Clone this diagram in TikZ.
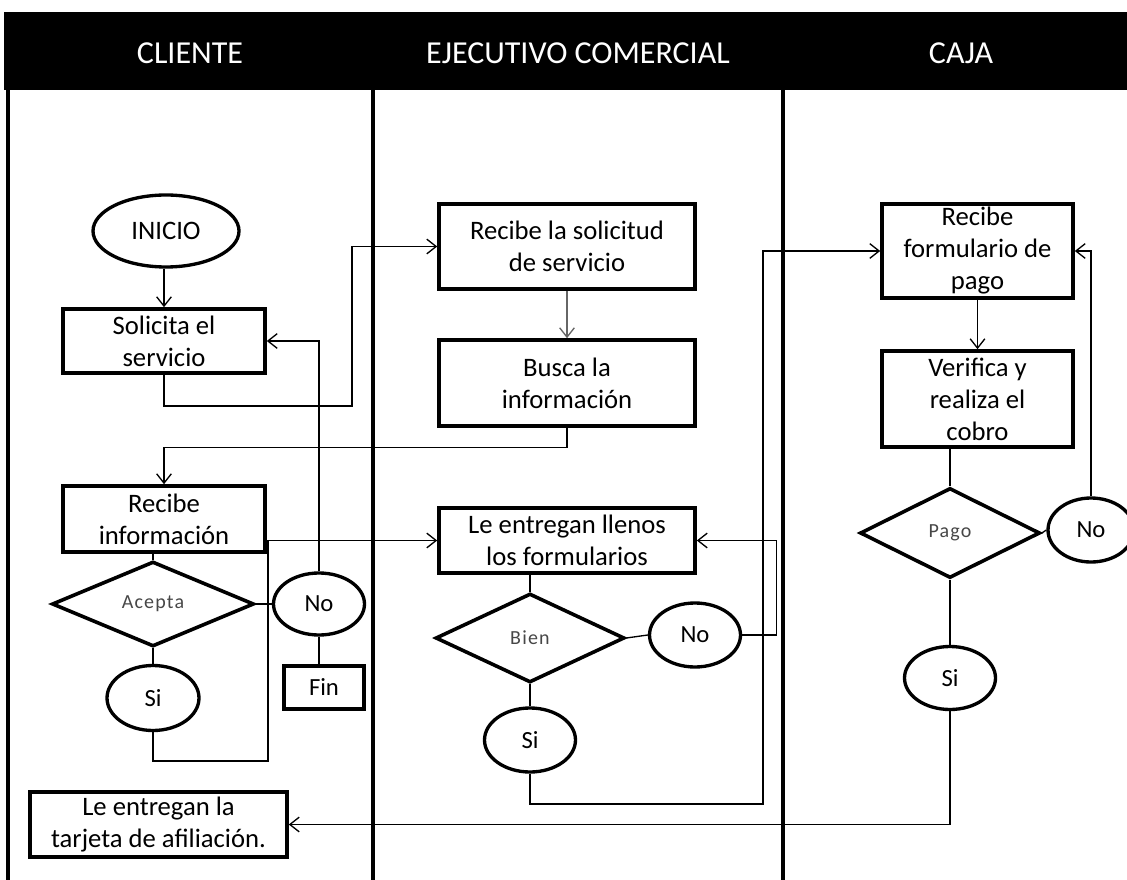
\documentclass[tikz,border=0pt]{standalone}
\usepackage{fontspec}
\setmainfont{Carlito}
\usetikzlibrary{shapes.geometric,arrows.meta}

\tikzset{
  procbox/.style={draw, line width=2.7pt, rectangle, inner sep=0pt, align=center, font=\fontsize{20}{24}\selectfont},
  decision/.style={draw, line width=2.7pt, diamond, inner sep=0pt, text=black!72, font=\fontsize{15}{18}\selectfont\addfontfeature{LetterSpace=6}},
  answer/.style={draw, line width=2.5pt, ellipse, inner sep=0pt, font=\fontsize{18.5}{22}\selectfont},
  heading/.style={text=white, inner sep=0pt, font=\fontsize{24}{28}\selectfont},
  link/.style={line width=1pt, -{Straight Barb[length=7pt,width=11pt]}},
  plain/.style={line width=1pt},
  lane/.style={line width=3pt},
}

\begin{document}
\begin{tikzpicture}[x=0.75pt,y=0.75pt,yscale=-1,xscale=1]
    \useasboundingbox (0,0) rectangle (1127,880);

    %Shape: Rectangle (header band)
    \fill [black] (4,12) rectangle (1127,90) ;
    %Straight Lines (lanes)
    \draw [lane] (8,90) -- (8,880) ;
    \draw [lane] (373,90) -- (373,880) ;
    \draw [lane] (783,90) -- (783,880) ;

    % Text Node
    \node [heading] (hdrcliente) at (190,53) {CLIENTE};
    % Text Node
    \node [heading] (hdrejecutivo) at (578,53) {EJECUTIVO COMERCIAL};
    % Text Node
    \node [heading] (hdrcaja) at (961,53) {CAJA};

    %Shape: Ellipse
    \node [answer, minimum width=109.5pt, minimum height=54pt, font=\fontsize{20}{24}\selectfont] (inicio) at (166,231) {INICIO};
    %Shape: Rectangle
    \node [procbox, minimum width=151.5pt, minimum height=48pt] (solicita) at (164,341) {Solicita el\\servicio};
    %Shape: Rectangle
    \node [procbox, minimum width=151.5pt, minimum height=49.5pt] (recinfo) at (164,519) {Recibe\\información};
    %Shape: Diamond
    \node [decision, minimum width=151.5pt, minimum height=63.75pt] (acepta) at (153,604) {Acepta};
    %Shape: Ellipse
    \node [answer, minimum width=68.25pt, minimum height=46.5pt] (noacepta) at (319,604) {No};
    %Shape: Rectangle
    \node [procbox, line width=2.5pt, minimum width=60pt, minimum height=32.25pt, font=\fontsize{18.5}{22}\selectfont] (fin) at (324,687.5) {Fin};
    %Shape: Ellipse
    \node [answer, minimum width=69pt, minimum height=48.75pt] (siacepta) at (153,698) {Si};
    %Shape: Rectangle
    \node [procbox, minimum width=192.75pt, minimum height=48.75pt] (tarjeta) at (158.5,824.5) {Le entregan la\\tarjeta de afiliación.};

    %Shape: Rectangle
    \node [procbox, minimum width=192pt, minimum height=63.75pt] (recsol) at (567,246.5) {Recibe la solicitud\\de servicio};
    %Shape: Rectangle
    \node [procbox, minimum width=192pt, minimum height=64.5pt] (busca) at (567,383) {Busca la\\información};
    %Shape: Rectangle
    \node [procbox, minimum width=192pt, minimum height=48.75pt] (llenos) at (567,540.5) {Le entregan llenos\\los formularios};
    %Shape: Diamond
    \node [decision, minimum width=141.75pt, minimum height=66.75pt] (bien) at (530,638) {Bien};
    %Shape: Ellipse
    \node [answer, minimum width=68.25pt, minimum height=48pt] (nobien) at (695,635) {No};
    %Shape: Ellipse
    \node [answer, minimum width=68.25pt, minimum height=48pt] (sibien) at (530,740) {Si};

    %Shape: Rectangle
    \node [procbox, minimum width=143.25pt, minimum height=70.5pt] (recpago) at (977.5,251) {Recibe\\formulario de\\pago};
    %Shape: Rectangle
    \node [procbox, minimum width=143.25pt, minimum height=72pt] (verifica) at (977.5,399) {Verifica y\\realiza el\\cobro};
    %Shape: Diamond
    \node [decision, minimum width=135pt, minimum height=67.5pt] (pago) at (950,533) {Pago};
    %Shape: Ellipse
    \node [answer, minimum width=64.5pt, minimum height=48pt] (nopago) at (1091,530) {No};
    %Shape: Ellipse
    \node [answer, minimum width=68.25pt, minimum height=47.25pt] (sipago) at (950,678) {Si};

    %Straight Lines
    \draw [link] (inicio.south -| solicita.north) -- (solicita.north) ;
    \draw [link] (solicita.south) |- (352,406) |- (recsol.west) ;
    \draw [link, draw=black!60] (recsol.south) -- (busca.north) ;
    \draw [link] (busca.south) -- ++(0,20) -| (recinfo.north) ;
    \draw [plain] (acepta.north |- recinfo.south) -- (acepta.north) ;
    \draw [plain] (acepta.east) -- (noacepta.west) ;
    \draw [plain] (noacepta.south) -- (noacepta.south |- fin.north) ;
    \draw [link] (noacepta.north) |- (solicita.east) ;
    \draw [plain] (acepta.south) -- (siacepta.north) ;
    \draw [link] (siacepta.south) |- (268,761) |- (llenos.west) ;

    \draw [plain] (bien.north |- llenos.south) -- (bien.north) ;
    \draw [plain] (bien.east) -- (nobien.west) ;
    \draw [link] (nobien.east) -- ++(34,0) |- (llenos.east) ;
    \draw [plain] (bien.south) -- (sibien.north) ;
    \draw [link] (sibien.south) |- (763,804) |- (recpago.west) ;

    \draw [link] (recpago.south) -- (verifica.north) ;
    \draw [plain] (pago.north |- verifica.south) -- (pago.north) ;
    \draw [plain] (pago.east) -- (nopago.west) ;
    \draw [link] (nopago.north) |- (recpago.east) ;
    \draw [plain] (pago.south) -- (sipago.north) ;
    \draw [link] (sipago.south) |- (tarjeta.east) ;

\end{tikzpicture}
\end{document}
